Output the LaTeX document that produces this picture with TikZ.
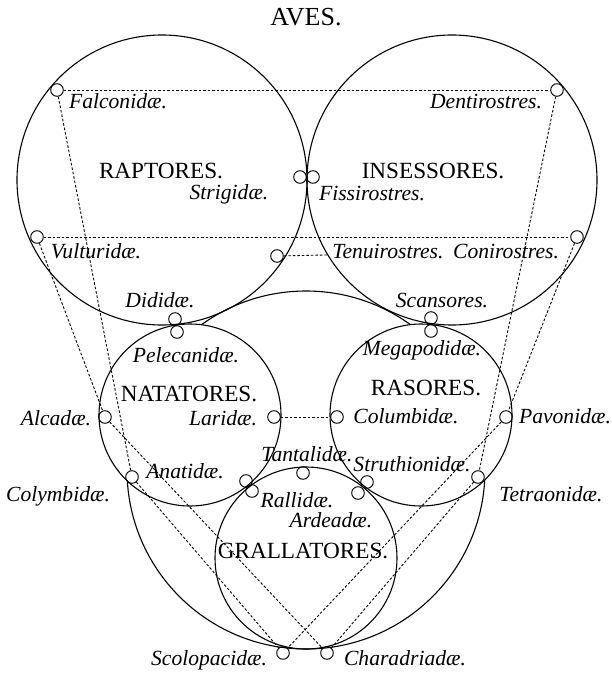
\documentclass[tikz,border=0pt]{standalone}
\usepackage{fontspec}
\setmainfont{Liberation Serif}

\tikzset{
  order/.style={circle, draw, inner sep=0pt, line width=1.1pt},
  family/.style={circle, draw, inner sep=0pt, minimum size=12.6pt, line width=0.95pt},
  affinity/.style={dash pattern=on 2.6pt off 1.9pt, line width=0.9pt},
  ordername/.style={anchor=base, font=\fontsize{23.2}{25}\selectfont},
  famname/.style={anchor=base, font=\fontsize{21.6}{24}\selectfont\itshape},
}

\begin{document}
\begin{tikzpicture}[x=1pt, y=-1pt]
  \useasboundingbox (0,0) rectangle (612,675);

  % Title
  \node[anchor=base, font=\fontsize{26}{28}\selectfont] (aves) at (306,25) {AVES.};

  % The five orders
  \node[order, minimum size=290pt] (raptores)    at (162,180) {};
  \node[order, minimum size=290pt] (insessores)  at (452,180) {};
  \node[order, minimum size=182pt] (natatores)   at (190,415) {};
  \node[order, minimum size=182pt] (rasores)     at (421,415) {};
  \node[order, minimum size=182pt] (grallatores) at (306,558) {};

  % Outer ring, hidden inside Natatores and Rasores
  \begin{scope}[even odd rule]
    \clip (0,0) rectangle (612,675)
      (natatores.center) circle (91pt) (rasores.center) circle (91pt);
    \draw[line width=1.1pt] (306,470) circle (179pt);
  \end{scope}

  % Order names
  \node[ordername] (raptoresname)    at (161,178) {RAPTORES.};
  \node[ordername] (insessoresname)  at (433,178) {INSESSORES.};
  \node[ordername] (natatoresname)   at (189,401) {NATATORES.};
  \node[ordername] (rasoresname)     at (426,395) {RASORES.};
  \node[ordername] (grallatoresname) at (303,558) {GRALLATORES.};

  % Families (small rings)
  \node[family] (falconidae)    at (57,90)   {};
  \node[family] (dentirostres)  at (557,90)  {};
  \node[family] (strigidae)     at (300,177) {};
  \node[family] (fissirostres)  at (313,177) {};
  \node[family] (vulturidae)    at (37,237)  {};
  \node[family] (conirostres)   at (577,237) {};
  \node[family] (tenuirostres)  at (277,256) {};
  \node[family] (dididae)       at (175,319) {};
  \node[family] (pelecanidae)   at (177,332) {};
  \node[family] (scansores)     at (431,318) {};
  \node[family] (megapodidae)   at (431,331) {};
  \node[family] (alcadae)       at (105,417) {};
  \node[family] (laridae)       at (274,417) {};
  \node[family] (columbidae)    at (337,417) {};
  \node[family] (pavonidae)     at (506,417) {};
  \node[family] (anatidae)      at (132,477) {};
  \node[family] (tetraonidae)   at (478,477) {};
  \node[family] (tantalidae)    at (303,473) {};
  \node[family] (natgrall)      at (246,481) {};
  \node[family] (rallidae)      at (252,491) {};
  \node[family] (struthionidae) at (367,482) {};
  \node[family] (ardeadae)      at (358,493) {};
  \node[family] (scolopacidae)  at (283,653) {};
  \node[family] (charadriadae)  at (327,653) {};

  % Family names
  \node[famname] (falconidaename)    at (118,108) {Falconidæ.};
  \node[famname] (dentirostresname)  at (486,108) {Dentirostres.};
  \node[famname] (strigidaename)     at (229,199) {Strigidæ.};
  \node[famname] (fissirostresname)  at (372,200) {Fissirostres.};
  \node[famname] (vulturidaename)    at (96,258)  {Vulturidæ.};
  \node[famname] (tenuirostresname)  at (388,258) {Tenuirostres.};
  \node[famname] (conirostresname)   at (506,258) {Conirostres.};
  \node[famname] (dididaename)       at (160,307) {Dididæ.};
  \node[famname] (scansoresname)     at (442,307) {Scansores.};
  \node[famname] (pelecanidaename)   at (186,362) {Pelecanidæ.};
  \node[famname] (megapodidaename)   at (422,355) {Megapodidæ.};
  \node[famname] (alcadaename)       at (56,425)  {Alcadæ.};
  \node[famname] (laridaename)       at (223,425) {Laridæ.};
  \node[famname] (columbidaename)    at (406,423) {Columbidæ.};
  \node[famname] (pavonidaename)     at (565,423) {Pavonidæ.};
  \node[famname] (tantalidaename)    at (307,461) {Tantalidæ.};
  \node[famname] (struthionidaename) at (412,471) {Struthionidæ.};
  \node[famname] (anatidaename)      at (185,478) {Anatidæ.};
  \node[famname] (colymbidaename)    at (58,501)  {Colymbidæ.};
  \node[famname] (tetraonidaename)   at (551,501) {Tetraonidæ.};
  \node[famname] (rallidaename)      at (297,507) {Rallidæ.};
  \node[famname] (ardeadaename)      at (331,527) {Ardeadæ.};
  \node[famname] (scolopacidaename)  at (209,665) {Scolopacidæ.};
  \node[famname] (charadriadaename)  at (405,665) {Charadriadæ.};

  % Affinities
  \coordinate (tenuend) at (insessores.211.6);
  \draw[affinity] (falconidae) -- (dentirostres);
  \draw[affinity] (vulturidae) -- (conirostres);
  \draw[affinity] (tenuirostres) -- (tenuend);
  \draw[affinity] (laridae) -- (columbidae);
  \draw[affinity] (falconidae) -- (anatidae);
  \draw[affinity] (vulturidae) -- (alcadae);
  \draw[affinity] (alcadae) -- (charadriadae);
  \draw[affinity] (anatidae) -- (scolopacidae);
  \draw[affinity] (dentirostres) -- (tetraonidae);
  \draw[affinity] (conirostres) -- (pavonidae);
  \draw[affinity] (pavonidae) -- (scolopacidae);
  \draw[affinity] (tetraonidae) -- (charadriadae);
\end{tikzpicture}
\end{document}
